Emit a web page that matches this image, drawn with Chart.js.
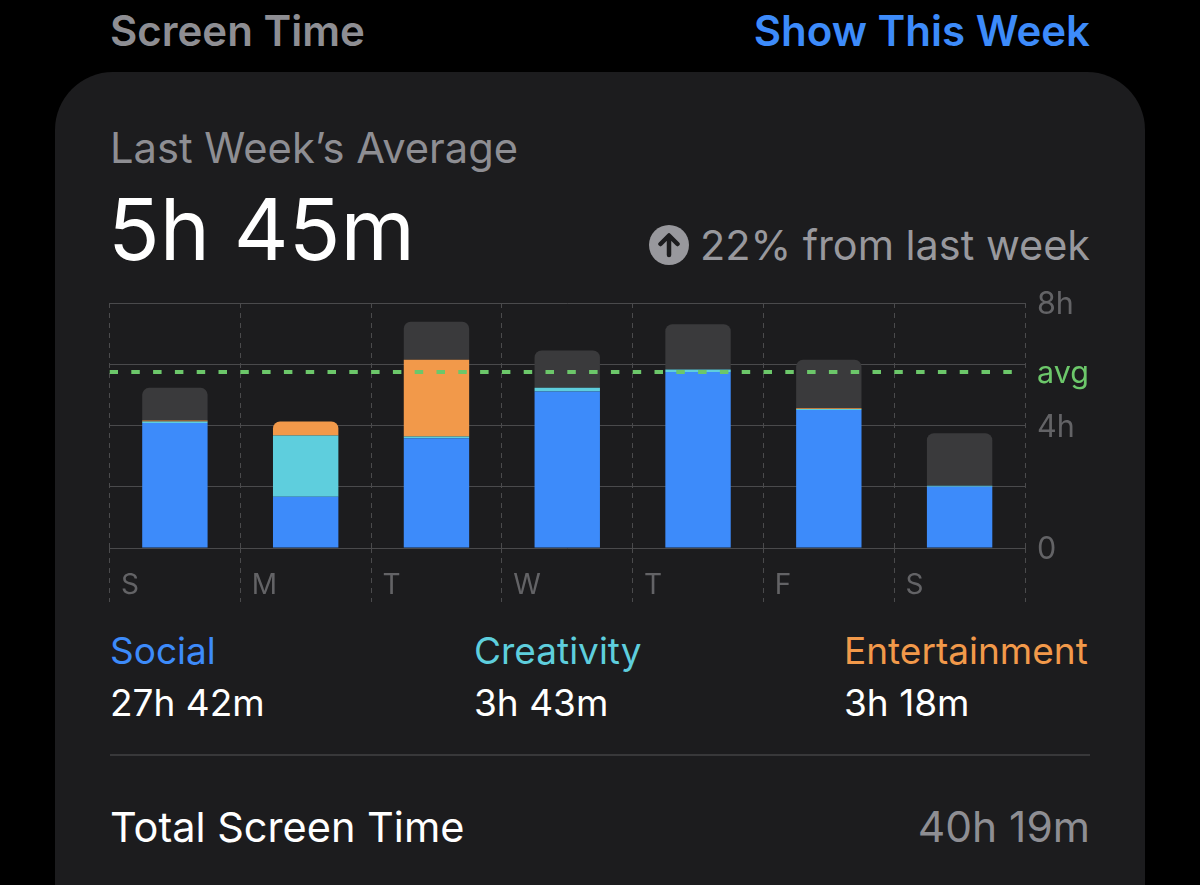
<!DOCTYPE html>
<html>
<head>
<meta charset="utf-8">
<title>Screen Time</title>
<script src="https://cdn.jsdelivr.net/npm/chart.js@4"></script>
<style>
    html, body { margin: 0; padding: 0; background: #000; width: 1200px; height: 885px; overflow: hidden; }
    body { position: relative; font-family: Inter, "Noto Sans", sans-serif; }
    #card { position: absolute; left: 55px; top: 72px; width: 1090px; height: 900px; background: #1c1c1e; border-radius: 58px; }
    #chart { position: absolute; left: 100px; top: 280px; }
    .t { position: absolute; white-space: nowrap; line-height: 50px; height: 50px; }
    .right { text-align: right; }
    #divider { position: absolute; left: 110px; top: 754px; width: 980px; height: 2px; background: #38383a; }
    #arrow { position: absolute; left: 648px; top: 224px; }
</style>
</head>
<body>
<div id="card"></div>

<div class="t" style="left:110px;top:6px;font-size:42px;font-weight:600;color:#8e8e93">Screen Time</div>
<div class="t" style="right:110px;top:6px;font-size:42px;font-weight:600;color:#3d8bfa">Show This Week</div>

<div class="t" style="left:110px;top:123px;font-size:41.7px;color:#8e8e93">Last Week’s Average</div>
<div class="t" style="left:108px;top:205px;font-size:85px;color:#fff">5h 45m</div>
<svg id="arrow" width="42" height="42" viewBox="0 0 42 42">
    <circle cx="21" cy="21" r="20" fill="#98989d"/>
    <path d="M21 31V12M12.5 20L21 11.5L29.5 20" fill="none" stroke="#1c1c1e" stroke-width="4.5" stroke-linecap="round" stroke-linejoin="round"/>
</svg>
<div class="t right" style="right:110px;top:220px;font-size:41.4px;color:#98989d">22% from last week</div>

<canvas id="chart" width="1000" height="330"></canvas>

<div class="t" style="left:110px;top:626px;font-size:37px;color:#3d8bfa">Social</div>
<div class="t" style="left:110px;top:678px;font-size:37px;color:#fff">27h 42m</div>
<div class="t" style="left:474px;top:626px;font-size:37px;color:#5ecedd">Creativity</div>
<div class="t" style="left:474px;top:678px;font-size:37px;color:#fff">3h 43m</div>
<div class="t" style="left:844px;top:626px;font-size:37px;color:#f2994a">Entertainment</div>
<div class="t" style="left:844px;top:678px;font-size:37px;color:#fff">3h 18m</div>

<div id="divider"></div>

<div class="t" style="left:110px;top:802px;font-size:41.5px;color:#fff">Total Screen Time</div>
<div class="t right" style="right:110px;top:802px;font-size:42.5px;color:#8e8e93">40h 19m</div>

<script>
// values in hours
const days = ['S', 'M', 'T', 'W', 'T', 'F', 'S'];
const social = [4.08, 1.67, 3.58, 5.11, 5.75, 4.51, 2.00];
const creativity = [0.05, 2.00, 0.06, 0.12, 0.08, 0.03, 0.03];
const entertainment = [0.03, 0.46, 2.51, 0, 0, 0.02, 0];
const other = [1.07, 0, 1.24, 1.22, 1.48, 1.59, 1.72];
const average = 5.75;
const yTickValues = [0, 2, 4, 6, 8];
const yTickLabels = { 0: '0', 4: '4h', 8: '8h', 5.75: 'avg' };

const topRound = { topLeft: 7, topRight: 7, bottomLeft: 0, bottomRight: 0 };

const chartData = {
    labels: days,
    datasets: [
        { type: 'line', label: 'avg', order: 0, xAxisID: 'xAvg',
          data: [{ x: 0, y: average }, { x: 6.9, y: average }],
          borderColor: '#6cc76a', borderWidth: 4, borderDash: [8.5, 13.3], pointRadius: 0 },
        { label: 'Social', order: 1, data: social, backgroundColor: '#3d8bfa' },
        { label: 'Creativity', order: 1, data: creativity, backgroundColor: '#5ecedd' },
        { label: 'Entertainment', order: 1, data: entertainment, backgroundColor: '#f2994a',
          borderRadius: function(c) { return other[c.dataIndex] === 0 ? topRound : 0; } },
        { label: 'Other', order: 1, data: other, backgroundColor: '#3a3a3c', borderRadius: topRound }
    ]
};

new Chart(document.getElementById('chart'), {
    type: 'bar',
    data: chartData,
    options: {
        responsive: false,
        animation: false,
        devicePixelRatio: 1,
        layout: { padding: { left: 9.5, top: 23, right: 0, bottom: 0 } },
        datasets: { bar: { grouped: false, categoryPercentage: 1, barPercentage: 0.5, borderSkipped: false } },
        plugins: { legend: { display: false }, tooltip: { enabled: false } },
        scales: {
            x: {
                stacked: true,
                border: { display: false, dash: [5, 5] },
                grid: { color: '#4a4a4c', tickColor: '#4a4a4c', tickLength: 54, tickBorderDash: [5, 5], lineWidth: 1 },
                ticks: {
                    color: '#636366', font: { family: 'Inter', size: 28 },
                    align: 'start', labelOffset: -54, padding: -33, maxRotation: 0, autoSkip: false
                },
                afterFit: function(scale) { scale.height = 62; }
            },
            xAvg: { type: 'linear', display: false, offset: false, min: 0, max: 7 },
            y: {
                stacked: true,
                position: 'right',
                min: 0,
                max: 8,
                border: { display: false },
                grid: {
                    drawTicks: false,
                    color: function(c) { return c.tick.value === average ? 'transparent' : '#4a4a4c'; }
                },
                afterBuildTicks: function(scale) {
                    scale.ticks = yTickValues.concat(average).map(function(v) { return { value: v }; });
                },
                ticks: {
                    padding: 12, labelOffset: 2, font: { family: 'Inter', size: 30.5 },
                    color: function(c) { return c.tick.value === average ? '#6cc76a' : '#636366'; },
                    callback: function(v) { return yTickLabels[v] || ''; }
                },
                afterFit: function(scale) { scale.width = 75; scale.paddingTop = 0; scale.paddingBottom = 0; }
            }
        }
    }
});
</script>
</body>
</html>
